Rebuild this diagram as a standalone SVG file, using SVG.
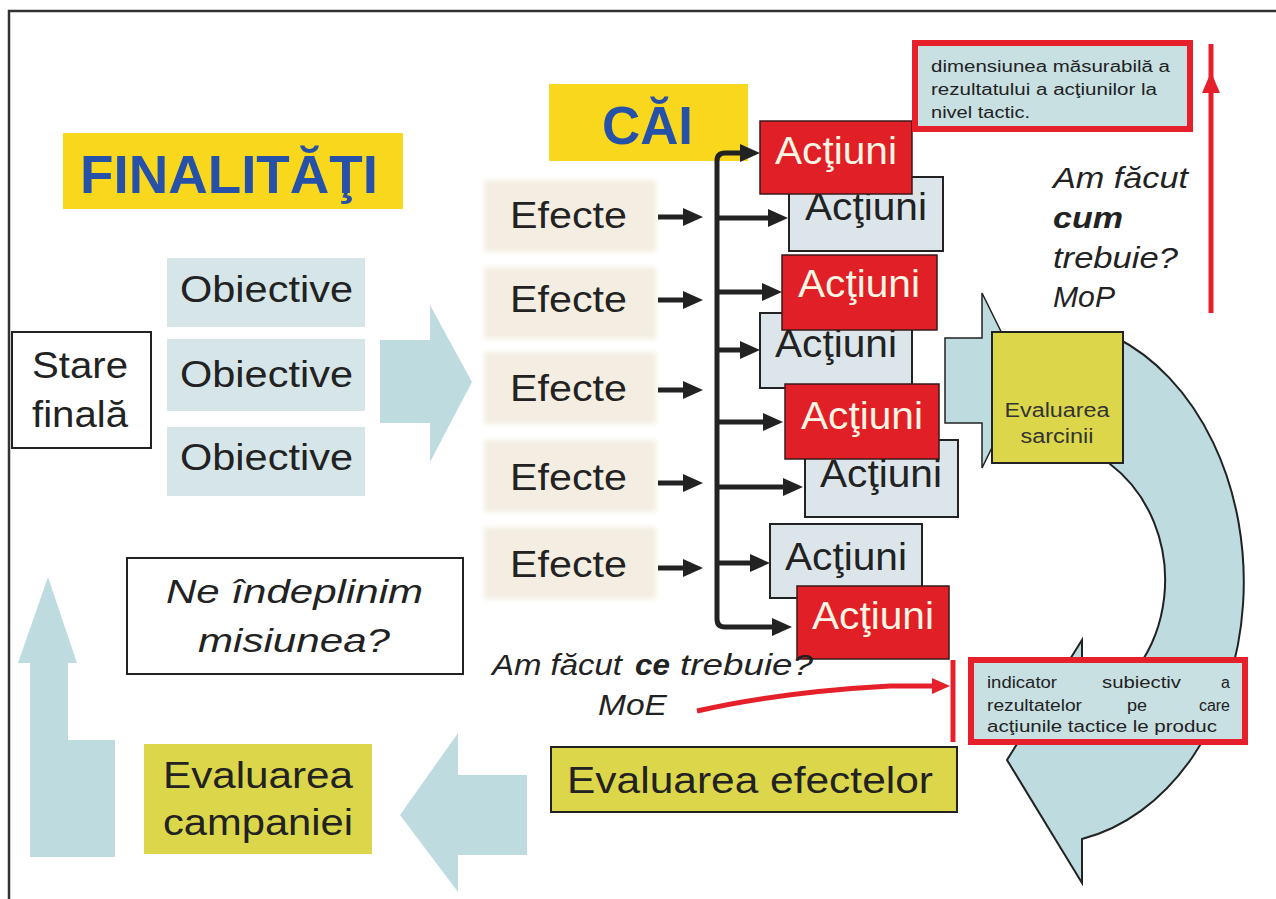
<svg xmlns="http://www.w3.org/2000/svg" width="1276" height="899" viewBox="0 0 1276 899">
<defs>
<style>
text{font-family:"Liberation Sans",Arial,sans-serif;}
.title{font-weight:bold;fill:#2552A8;font-size:54px;}
.big{font-size:36px;fill:#222;}
.act{font-size:38px;text-anchor:middle;}
.red{fill:#E11F26;stroke:#3a1a1a;stroke-width:1.5;}
.redt{fill:#FFF5E4;}
.gray{fill:#DCE6EA;stroke:#222;stroke-width:2;}
.grayt{fill:#222;}
.obj{fill:#D5E5E8;}
.eff{fill:#F3EEE1;}
.olive{fill:#DCD74A;}
.cyan{fill:#BEDCDF;}
.it{font-style:italic;fill:#222;}
.note{font-size:16px;fill:#222;}
.redbox{fill:#C8E0E2;stroke:#E5202A;stroke-width:6;}
.arr{stroke:#222;stroke-width:5;fill:none;}
.rl{stroke:#E5202A;stroke-width:5;fill:none;}
</style>
<marker id="ah" markerUnits="userSpaceOnUse" markerWidth="20" markerHeight="18" refX="12" refY="9" orient="auto"><path d="M0,0 L20,9 L0,18 z" fill="#222"/></marker>
<marker id="rh" markerUnits="userSpaceOnUse" markerWidth="18" markerHeight="16" refX="10" refY="8" orient="auto"><path d="M0,0 L18,8 L0,16 z" fill="#E5202A"/></marker>
<filter id="soft" x="-10%" y="-20%" width="120%" height="140%"><feGaussianBlur stdDeviation="2.5"/></filter>
</defs>
<rect x="0" y="0" width="1276" height="899" fill="#ffffff"/>
<path d="M9,899 L9,11 L1276,11" fill="none" stroke="#333" stroke-width="2.5"/>

<g id="efecte-backgrounds" filter="url(#soft)">
<rect class="eff" x="484" y="180" width="172" height="72"/>
<rect class="eff" x="484" y="267" width="172" height="72"/>
<rect class="eff" x="484" y="352" width="172" height="72"/>
<rect class="eff" x="484" y="440" width="172" height="72"/>
<rect class="eff" x="484" y="527" width="172" height="72"/>
</g>

<g id="block-arrows">
<polygon class="cyan" points="380,340 430,340 430,305 472,382 430,462 430,423 380,423"/>
<polygon class="cyan" points="527,775 458,775 458,733 400,815 458,892 458,855 527,855"/>
<polygon class="cyan" points="30,857 115,857 115,740 68,740 68,663 77,663 48,577 18,663 30,663"/>
<polygon class="cyan" points="945,338 982,338 982,293 1025,380 982,468 982,423 945,423" stroke="#222" stroke-width="1.5"/>
<path class="cyan" d="M1115,337 A200,262 0 0,1 1082,839 L1082,883 L1007,760 L1082,640 L1082,712 A125,140 0 0,0 1110,464 Z" stroke="#222" stroke-width="2"/>
</g>

<g id="finalitati">
<rect x="63" y="133" width="340" height="76" fill="#F9D71C"/>
<text class="title" x="80" y="193" textLength="298" lengthAdjust="spacingAndGlyphs">FINALITĂŢI</text>
</g>
<g id="cai">
<rect x="549" y="84" width="199" height="77" fill="#F9D71C"/>
<text class="title" x="602" y="144" textLength="91" lengthAdjust="spacingAndGlyphs">CĂI</text>
</g>

<g id="stare-finala">
<rect x="12" y="332" width="139" height="116" fill="#fff" stroke="#222" stroke-width="2"/>
<text class="big" x="32" y="378" font-size="33" textLength="96" lengthAdjust="spacingAndGlyphs">Stare</text>
<text class="big" x="32" y="427" font-size="33" textLength="96" lengthAdjust="spacingAndGlyphs">finală</text>
</g>

<g id="obiective-1"><rect class="obj" x="167" y="258" width="198" height="69"/><text class="big" x="180" y="302" textLength="173" lengthAdjust="spacingAndGlyphs">Obiective</text></g>
<g id="obiective-2"><rect class="obj" x="167" y="339" width="198" height="72"/><text class="big" x="180" y="387" textLength="173" lengthAdjust="spacingAndGlyphs">Obiective</text></g>
<g id="obiective-3"><rect class="obj" x="167" y="427" width="198" height="69"/><text class="big" x="180" y="470" textLength="173" lengthAdjust="spacingAndGlyphs">Obiective</text></g>

<g id="efecte-1"><text class="big" font-size="39" x="510" y="228" textLength="117" lengthAdjust="spacingAndGlyphs">Efecte</text></g>
<g id="efecte-2"><text class="big" font-size="39" x="510" y="312" textLength="117" lengthAdjust="spacingAndGlyphs">Efecte</text></g>
<g id="efecte-3"><text class="big" font-size="39" x="510" y="401" textLength="117" lengthAdjust="spacingAndGlyphs">Efecte</text></g>
<g id="efecte-4"><text class="big" font-size="39" x="510" y="490" textLength="117" lengthAdjust="spacingAndGlyphs">Efecte</text></g>
<g id="efecte-5"><text class="big" font-size="39" x="510" y="577" textLength="117" lengthAdjust="spacingAndGlyphs">Efecte</text></g>

<g id="connectors">
<line class="arr" x1="658" y1="217" x2="695" y2="217" marker-end="url(#ah)"/>
<line class="arr" x1="658" y1="300" x2="695" y2="300" marker-end="url(#ah)"/>
<line class="arr" x1="658" y1="390" x2="695" y2="390" marker-end="url(#ah)"/>
<line class="arr" x1="658" y1="483" x2="695" y2="483" marker-end="url(#ah)"/>
<line class="arr" x1="658" y1="568" x2="695" y2="568" marker-end="url(#ah)"/>
<path class="arr" d="M717,400 L717,161 Q717,153 725,153 L752,153" marker-end="url(#ah)"/>
<path class="arr" d="M717,400 L717,619 Q717,627 725,627 L784,627" marker-end="url(#ah)"/>
<line class="arr" x1="717" y1="218" x2="780" y2="218" marker-end="url(#ah)"/>
<line class="arr" x1="717" y1="292" x2="774" y2="292" marker-end="url(#ah)"/>
<line class="arr" x1="717" y1="350" x2="752" y2="350" marker-end="url(#ah)"/>
<line class="arr" x1="717" y1="422" x2="775" y2="422" marker-end="url(#ah)"/>
<line class="arr" x1="717" y1="487" x2="795" y2="487" marker-end="url(#ah)"/>
<line class="arr" x1="717" y1="563" x2="762" y2="563" marker-end="url(#ah)"/>
<path class="rl" d="M697,711 Q780,692 890,686 L942,686" marker-end="url(#rh)"/>
<line class="rl" x1="953" y1="660" x2="953" y2="742"/>
<line class="rl" x1="1211" y1="313" x2="1211" y2="44"/>
<polygon points="1211,72 1220,93 1202,93" fill="#E5202A"/>
</g>

<g id="actiuni-2"><rect class="gray" x="789" y="177" width="154" height="74"/><text class="act grayt" x="866" y="220" textLength="122" lengthAdjust="spacingAndGlyphs">Acţiuni</text></g>
<g id="actiuni-1"><rect class="red" x="760" y="121" width="152" height="73"/><text class="act redt" x="836" y="164" textLength="122" lengthAdjust="spacingAndGlyphs">Acţiuni</text></g>
<g id="actiuni-4"><rect class="gray" x="760" y="313" width="152" height="75"/><text class="act grayt" x="836" y="357" textLength="122" lengthAdjust="spacingAndGlyphs">Acţiuni</text></g>
<g id="actiuni-3"><rect class="red" x="782" y="255" width="155" height="75"/><text class="act redt" x="859" y="297" textLength="122" lengthAdjust="spacingAndGlyphs">Acţiuni</text></g>
<g id="actiuni-6"><rect class="gray" x="805" y="440" width="153" height="77"/><text class="act grayt" x="881" y="487" textLength="122" lengthAdjust="spacingAndGlyphs">Acţiuni</text></g>
<g id="actiuni-5"><rect class="red" x="785" y="384" width="154" height="75"/><text class="act redt" x="862" y="429" textLength="122" lengthAdjust="spacingAndGlyphs">Acţiuni</text></g>
<g id="actiuni-7"><rect class="gray" x="770" y="524" width="152" height="74"/><text class="act grayt" x="846" y="570" textLength="122" lengthAdjust="spacingAndGlyphs">Acţiuni</text></g>
<g id="actiuni-8"><rect class="red" x="797" y="586" width="152" height="73"/><text class="act redt" x="873" y="629" textLength="122" lengthAdjust="spacingAndGlyphs">Acţiuni</text></g>

<g id="evaluarea-sarcinii">
<rect class="olive" x="992" y="332" width="131" height="131" stroke="#222" stroke-width="2"/>
<text x="1057" y="417" font-size="20" fill="#333" text-anchor="middle" textLength="105" lengthAdjust="spacingAndGlyphs">Evaluarea</text>
<text x="1057" y="443" font-size="20" fill="#333" text-anchor="middle" textLength="73" lengthAdjust="spacingAndGlyphs">sarcinii</text>
</g>

<g id="nota-mop">
<rect class="redbox" x="915" y="43" width="275" height="86"/>
<text class="note" x="931" y="72" textLength="239" lengthAdjust="spacingAndGlyphs">dimensiunea măsurabilă a</text>
<text class="note" x="931" y="95" textLength="226" lengthAdjust="spacingAndGlyphs">rezultatului a acţiunilor la</text>
<text class="note" x="931" y="118" textLength="99" lengthAdjust="spacingAndGlyphs">nivel tactic.</text>
</g>

<g id="intrebare-mop">
<text class="it" font-size="30" x="1053" y="188" textLength="135" lengthAdjust="spacingAndGlyphs">Am făcut</text>
<text class="it" font-size="30" font-weight="bold" x="1053" y="228" textLength="70" lengthAdjust="spacingAndGlyphs">cum</text>
<text class="it" font-size="30" x="1053" y="268" textLength="125" lengthAdjust="spacingAndGlyphs">trebuie?</text>
<text class="it" font-size="30" x="1053" y="307" textLength="62" lengthAdjust="spacingAndGlyphs">MoP</text>
</g>

<g id="nota-moe">
<rect class="redbox" x="971" y="660" width="274" height="82"/>
<text class="note" x="987" y="688" textLength="70" lengthAdjust="spacingAndGlyphs">indicator</text>
<text class="note" x="1102" y="688" textLength="79" lengthAdjust="spacingAndGlyphs">subiectiv</text>
<text class="note" x="1230" y="688" text-anchor="end">a</text>
<text class="note" x="987" y="711" textLength="95" lengthAdjust="spacingAndGlyphs">rezultatelor</text>
<text class="note" x="1127" y="711" textLength="20" lengthAdjust="spacingAndGlyphs">pe</text>
<text class="note" x="1230" y="711" text-anchor="end">care</text>
<text class="note" x="987" y="732" textLength="230" lengthAdjust="spacingAndGlyphs">acţiunile tactice le produc</text>
</g>

<g id="intrebare-moe">
<text class="it" font-size="30" x="492" y="675" textLength="130" lengthAdjust="spacingAndGlyphs">Am făcut</text>
<text class="it" font-size="30" font-weight="bold" x="635" y="675" textLength="35" lengthAdjust="spacingAndGlyphs">ce</text>
<text class="it" font-size="30" x="680" y="675" textLength="133" lengthAdjust="spacingAndGlyphs">trebuie?</text>
<text class="it" font-size="30" x="598" y="715" textLength="69" lengthAdjust="spacingAndGlyphs">MoE</text>
</g>

<g id="misiunea">
<rect x="127" y="558" width="336" height="116" fill="#fff" stroke="#222" stroke-width="2"/>
<text class="it" font-size="33" x="166" y="603" textLength="257" lengthAdjust="spacingAndGlyphs">Ne îndeplinim</text>
<text class="it" font-size="33" x="198" y="652" textLength="192" lengthAdjust="spacingAndGlyphs">misiunea?</text>
</g>

<g id="evaluarea-efectelor">
<rect class="olive" x="551" y="747" width="406" height="65" stroke="#222" stroke-width="2"/>
<text class="big" x="567" y="793" textLength="366" lengthAdjust="spacingAndGlyphs">Evaluarea efectelor</text>
</g>

<g id="evaluarea-campaniei">
<rect class="olive" x="144" y="744" width="228" height="110"/>
<text class="big" font-size="35" x="163" y="788" textLength="190" lengthAdjust="spacingAndGlyphs">Evaluarea</text>
<text class="big" font-size="35" x="163" y="835" textLength="190" lengthAdjust="spacingAndGlyphs">campaniei</text>
</g>
</svg>
